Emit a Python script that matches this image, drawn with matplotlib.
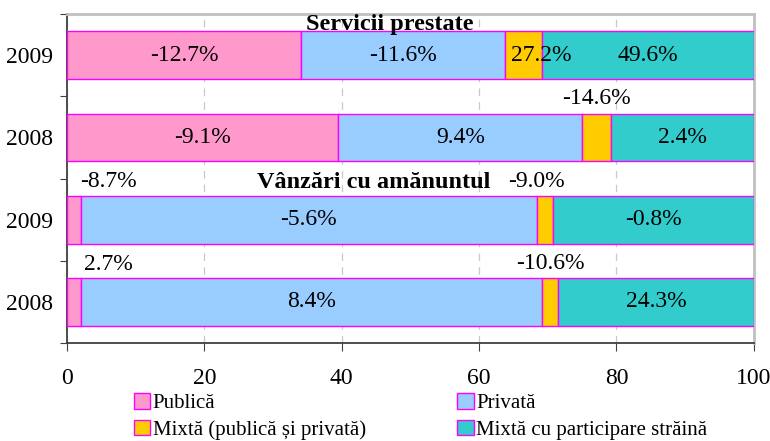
import matplotlib
matplotlib.use("Agg")
import matplotlib.pyplot as plt
from matplotlib.patches import Patch

plt.rcParams["font.family"] = ["Liberation Serif", "DejaVu Serif"]

# data (share of each ownership form, %), top to bottom
years = ["2009", "2008", "2009", "2008"]
publica = [34.1, 39.5, 2.0, 2.0]
privata = [29.6, 35.5, 66.4, 67.2]
mixta = [5.4, 4.2, 2.3, 2.3]
straina = [30.9, 20.8, 29.3, 28.5]

lbl_publica = ["-12.7%", "-9.1%", "-8.7%", "2.7%"]
lbl_privata = ["-11.6%", "9.4%", "-5.6%", "8.4%"]
lbl_mixta = ["27.2%", "-14.6%", "-9.0%", "-10.6%"]
lbl_straina = ["49.6%", "2.4%", "-0.8%", "24.3%"]

series_names = ["Publică", "Privată", "Mixtă (publică și privată)",
                "Mixtă cu participare străină"]
colors = ["#FF99CC", "#99CCFF", "#FFCC00", "#33CCCC"]
edge = "#FF00FF"

fig = plt.figure(figsize=(7.7, 4.41), dpi=100)
ax = fig.add_axes([0.087, 0.222, 0.892, 0.746])

ypos = [3, 2, 1, 0]
series = [publica, privata, mixta, straina]
left = [0.0] * 4
lefts = []
for vals, c in zip(series, colors):
    ax.barh(ypos, vals, left=left, height=0.58, color=c, edgecolor=edge,
            linewidth=1.0, zorder=3)
    lefts.append(list(left))
    left = [l + v for l, v in zip(left, vals)]

fs = 17
for i, y in enumerate(ypos):
    mid = [lefts[k][i] + series[k][i] / 2 for k in range(4)]
    # pink
    if i < 2:
        ax.text(mid[0], y, lbl_publica[i], ha="center", va="center", fontsize=fs, zorder=4)
    else:
        ax.text(mid[0] + 5, y + 0.46, lbl_publica[i], ha="center", va="center", fontsize=fs, zorder=4)
    ax.text(mid[1], y, lbl_privata[i], ha="center", va="center", fontsize=fs, zorder=4)
    if i == 0:
        ax.text(mid[2] + 2.6, y, lbl_mixta[i], ha="center", va="center", fontsize=fs, zorder=4)
    else:
        ax.text(mid[2] - (1.2 if i == 2 else 0), y + 0.47, lbl_mixta[i],
                ha="center", va="center", fontsize=fs, zorder=4)
    ax.text(mid[3], y, lbl_straina[i], ha="center", va="center", fontsize=fs, zorder=4)

ax.text(47, 3.37, "Servicii prestate", ha="center", va="center",
        fontsize=17.5, fontweight="bold", zorder=4)
ax.text(44.7, 1.45, "Vânzări cu amănuntul", ha="center", va="center",
        fontsize=17.5, fontweight="bold", zorder=4)

ax.set_xlim(0, 100)
ax.set_ylim(-0.5, 3.5)
ax.set_xticks([0, 20, 40, 60, 80, 100])
ax.tick_params(axis="x", labelsize=17, length=6, direction="out", color="#404040", pad=12)
ax.set_yticks([-0.5, 0.5, 1.5, 2.5, 3.5])
ax.set_yticklabels([])
ax.set_yticks(ypos, minor=True)
ax.set_yticklabels(years, minor=True)
ax.tick_params(axis="y", which="major", length=5, direction="out", color="#404040")
ax.tick_params(axis="y", which="minor", length=0, labelsize=17, pad=10)

ax.grid(axis="x", color="#C8C8C8", linestyle=(0, (6, 5)), linewidth=0.9, zorder=0)
for s in ["left", "bottom"]:
    ax.spines[s].set_color("#404040")
    ax.spines[s].set_linewidth(1.3)
for s in ["top", "right"]:
    ax.spines[s].set_color("#C0C0C0")
    ax.spines[s].set_linewidth(2)

handles = [Patch(facecolor=c, edgecolor=edge, linewidth=1.0) for c in colors]
order = [0, 2, 1, 3]
fig.legend([handles[k] for k in order], [series_names[k] for k in order],
           ncol=2, loc="lower left", bbox_to_anchor=(0.158, -0.025),
           frameon=False, fontsize=15, handlelength=0.77, handleheight=0.77,
           handletextpad=0.12, columnspacing=4.4, labelspacing=0.3,
           borderaxespad=0.2)

fig.savefig("out.png", dpi=100)
